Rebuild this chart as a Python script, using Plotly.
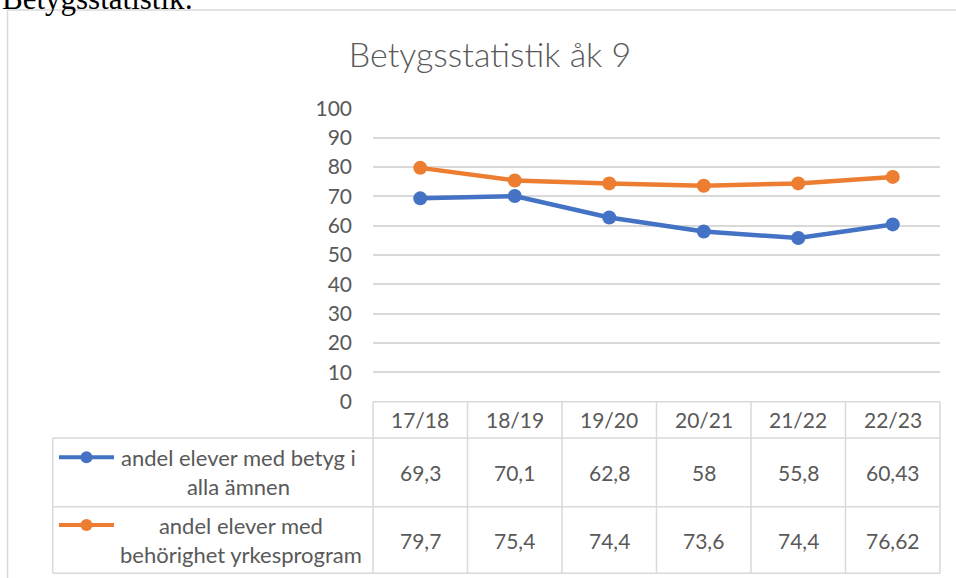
import plotly.graph_objects as go

W, H = 956, 578

# ---- data ----
categories = ["17/18", "18/19", "19/20", "20/21", "21/22", "22/23"]
series_names = ["andel elever med betyg i<br>alla ämnen", "andel elever med<br>behörighet yrkesprogram"]
betyg_alla = [69.3, 70.1, 62.8, 58, 55.8, 60.43]
behorighet_yrke = [79.7, 75.4, 74.4, 73.6, 74.4, 76.62]
y_ticks = [0, 10, 20, 30, 40, 50, 60, 70, 80, 90, 100]
title_text = "Betygsstatistik åk 9"
doc_text = "Betygsstatistik:"

colors = ["#4472C4", "#ED7D31"]
series = [betyg_alla, behorighet_yrke]

GRAY_TXT = "#595959"
GRID = "#D9D9D9"
FONT = "Lato"

def fx(px):
    return px / W

def fy(py):
    return 1 - py / H

# pixel geometry
PX0, PX1 = 373, 940          # plot area / table columns
PY_TOP, PY_ZERO = 108.3, 401.7
ROW_HDR_BOT = 438
ROW1_BOT = 506.7
ROW2_BOT = 573.3
LEG_X0 = 52.7

fig = go.Figure()
for vals, col in zip(series, colors):
    fig.add_trace(go.Scatter(
        x=categories, y=vals, mode="lines+markers",
        line=dict(color=col, width=4.5),
        marker=dict(color=col, size=14),
        showlegend=False, hoverinfo="skip"))

shapes = []
annotations = []

def hline(y, x0, x1, color=GRID, w=1.5):
    shapes.append(dict(type="line", xref="paper", yref="paper",
                       x0=fx(x0), x1=fx(x1), y0=fy(y), y1=fy(y),
                       line=dict(color=color, width=w), layer="below"))

def vline(x, y0, y1, color=GRID, w=1.5):
    shapes.append(dict(type="line", xref="paper", yref="paper",
                       x0=fx(x), x1=fx(x), y0=fy(y0), y1=fy(y1),
                       line=dict(color=color, width=w), layer="below"))

# chart frame
hline(10, 7.5, W + 5, color="#D9D9D9", w=1.5)
vline(7.5, 10, H + 5, color="#D9D9D9", w=1.5)

# table
hline(PY_ZERO, PX0, PX1)
for y in (ROW_HDR_BOT, ROW1_BOT, ROW2_BOT):
    hline(y, LEG_X0, PX1)
vline(LEG_X0, ROW_HDR_BOT, ROW2_BOT)
colw = (PX1 - PX0) / len(categories)
for i in range(len(categories) + 1):
    vline(PX0 + i * colw, PY_ZERO, ROW2_BOT)

# header labels and values
row_centers = [(ROW_HDR_BOT + ROW1_BOT) / 2, (ROW1_BOT + ROW2_BOT) / 2]
for i, c in enumerate(categories):
    annotations.append(dict(text=c, x=c, xref="x", xanchor="center",
                            y=fy((PY_ZERO + ROW_HDR_BOT) / 2), yref="paper", yanchor="middle",
                            showarrow=False,
                            font=dict(family=FONT, size=21, color=GRAY_TXT)))
for vals, yc in zip(series, row_centers):
    for c, v in zip(categories, vals):
        annotations.append(dict(text=str(v).replace(".", ","), x=c, xref="x", xanchor="center",
                                y=fy(yc), yref="paper", yanchor="middle", showarrow=False,
                                font=dict(family=FONT, size=21, color=GRAY_TXT)))

# legend keys inside table
leg_text_x = [238, 241]
for name, col, yc, tx in zip(series_names, colors, row_centers, leg_text_x):
    ky = yc - 15
    shapes.append(dict(type="line", xref="paper", yref="paper",
                       x0=fx(59), x1=fx(114), y0=fy(ky), y1=fy(ky),
                       line=dict(color=col, width=4)))
    r = 6
    shapes.append(dict(type="circle", xref="paper", yref="paper",
                       x0=fx(86.5 - r), x1=fx(86.5 + r), y0=fy(ky - r), y1=fy(ky + r),
                       fillcolor=col, line=dict(color=col, width=0)))
    annotations.append(dict(text=name, x=fx(tx), xref="paper", xanchor="center",
                            y=fy(yc), yref="paper", yanchor="middle",
                            showarrow=False, align="center",
                            font=dict(family=FONT, size=22, color=GRAY_TXT)))

# document text above the chart (cut off at top)
annotations.append(dict(text=doc_text, x=0, xref="paper", xanchor="left",
                        y=fy(18), yref="paper", yanchor="bottom", showarrow=False,
                        font=dict(family="Liberation Serif", size=31, color="#000000")))

fig.update_layout(
    width=W, height=H, autosize=False,
    margin=dict(l=0, r=0, t=0, b=0, pad=0),
    paper_bgcolor="white", plot_bgcolor="white",
    title=dict(text=title_text, x=fx(490), xanchor="center", xref="paper",
               y=fy(55), yanchor="middle", yref="paper",
               font=dict(family=FONT, size=34, color=GRAY_TXT, weight=300)),
    xaxis=dict(domain=[fx(PX0), fx(PX1)], range=[-0.5, 5.5],
               showticklabels=False, showgrid=False, zeroline=False, showline=False,
               fixedrange=True, automargin=False),
    yaxis=dict(domain=[fy(PY_ZERO), fy(PY_TOP)], range=[0, 100],
               tickvals=y_ticks, ticktext=[str(v) for v in y_ticks],
               showgrid=True, gridcolor=GRID, gridwidth=1.5,
               zeroline=False, showline=False, ticks="",
               ticklabelstandoff=20, automargin=False,
               tickfont=dict(family=FONT, size=21, color=GRAY_TXT)),
    shapes=shapes, annotations=annotations,
)

fig.write_html(
    "out.html",
    config={"responsive": False, "displayModeBar": False},
    post_script="document.body.style.margin='0px';document.body.style.padding='0px';"
                "document.body.style.overflow='hidden';",
)
